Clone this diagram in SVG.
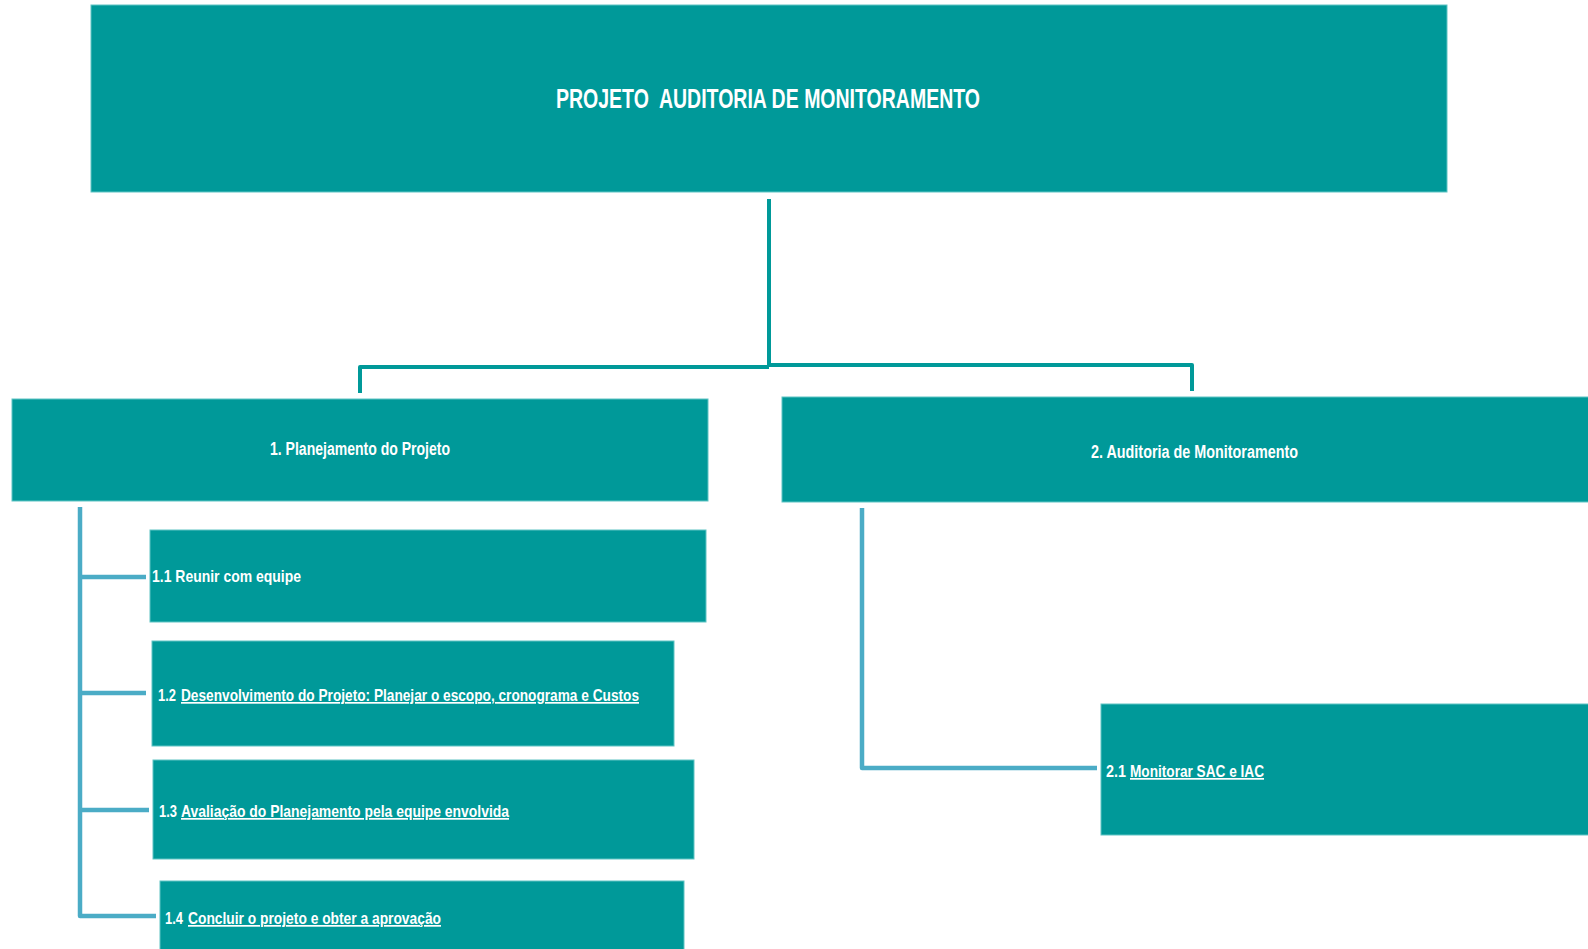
<svg xmlns="http://www.w3.org/2000/svg" width="1588" height="949" viewBox="0 0 1588 949">
<style>
.box{fill:#009999;stroke:#5fc4c4;stroke-width:1}
.t{fill:#ffffff;font-family:"Liberation Sans",Arial,sans-serif;font-weight:bold}
.u{text-decoration:underline}
.main{fill:none;stroke:#009999;stroke-width:4;stroke-linejoin:round}
.sub{fill:none;stroke:#4BACC6;stroke-width:4.5;stroke-linejoin:round}
</style>
<rect width="1588" height="949" fill="#ffffff"/>
<g id="connectors">
<path class="main" d="M769,199 V366"/>
<path class="main" d="M769,367 H360 V393"/>
<path class="main" d="M769,365 H1192 V391"/>
<path class="sub" d="M80,507 V916 H156"/>
<path class="sub" d="M80,577 H146"/>
<path class="sub" d="M80,693 H146"/>
<path class="sub" d="M80,810 H149"/>
<path class="sub" d="M862,508 V768 H1097"/>
</g>
<g id="node-root">
<rect class="box" x="91" y="5" width="1356" height="187"/>
<text class="t" x="556" y="108" font-size="27" textLength="424" lengthAdjust="spacingAndGlyphs" xml:space="preserve" style="white-space:pre">PROJETO  AUDITORIA DE MONITORAMENTO</text>
</g>
<g id="node-1">
<rect class="box" x="12" y="399" width="696" height="102"/>
<text class="t" x="270" y="455" font-size="18" textLength="180" lengthAdjust="spacingAndGlyphs">1. Planejamento do Projeto</text>
</g>
<g id="node-2">
<rect class="box" x="782" y="397" width="810" height="105"/>
<text class="t" x="1091" y="458" font-size="18" textLength="207" lengthAdjust="spacingAndGlyphs">2. Auditoria de Monitoramento</text>
</g>
<g id="node-1-1">
<rect class="box" x="150" y="530" width="556" height="92"/>
<text class="t" x="152" y="582" font-size="17" textLength="149" lengthAdjust="spacingAndGlyphs">1.1 Reunir com equipe</text>
</g>
<g id="node-1-2">
<rect class="box" x="152" y="641" width="522" height="105"/>
<text class="t" x="158" y="701" font-size="17" textLength="18" lengthAdjust="spacingAndGlyphs">1.2</text>
<text class="t u" x="181" y="701" font-size="17" textLength="458" lengthAdjust="spacingAndGlyphs">Desenvolvimento do Projeto: Planejar o escopo, cronograma e Custos</text>
</g>
<g id="node-1-3">
<rect class="box" x="153" y="760" width="541" height="99"/>
<text class="t" x="159" y="817" font-size="17" textLength="18" lengthAdjust="spacingAndGlyphs">1.3</text>
<text class="t u" x="181" y="817" font-size="17" textLength="328" lengthAdjust="spacingAndGlyphs">Avaliação do Planejamento pela equipe envolvida</text>
</g>
<g id="node-1-4">
<rect class="box" x="160" y="881" width="524" height="75"/>
<text class="t" x="165" y="924" font-size="17" textLength="18" lengthAdjust="spacingAndGlyphs">1.4</text>
<text class="t u" x="188" y="924" font-size="17" textLength="253" lengthAdjust="spacingAndGlyphs">Concluir o projeto e obter a aprovação</text>
</g>
<g id="node-2-1">
<rect class="box" x="1101" y="704" width="491" height="131"/>
<text class="t" x="1106" y="777" font-size="17" textLength="20" lengthAdjust="spacingAndGlyphs">2.1</text>
<text class="t u" x="1130" y="777" font-size="17" textLength="134" lengthAdjust="spacingAndGlyphs">Monitorar SAC e IAC</text>
</g>
</svg>
